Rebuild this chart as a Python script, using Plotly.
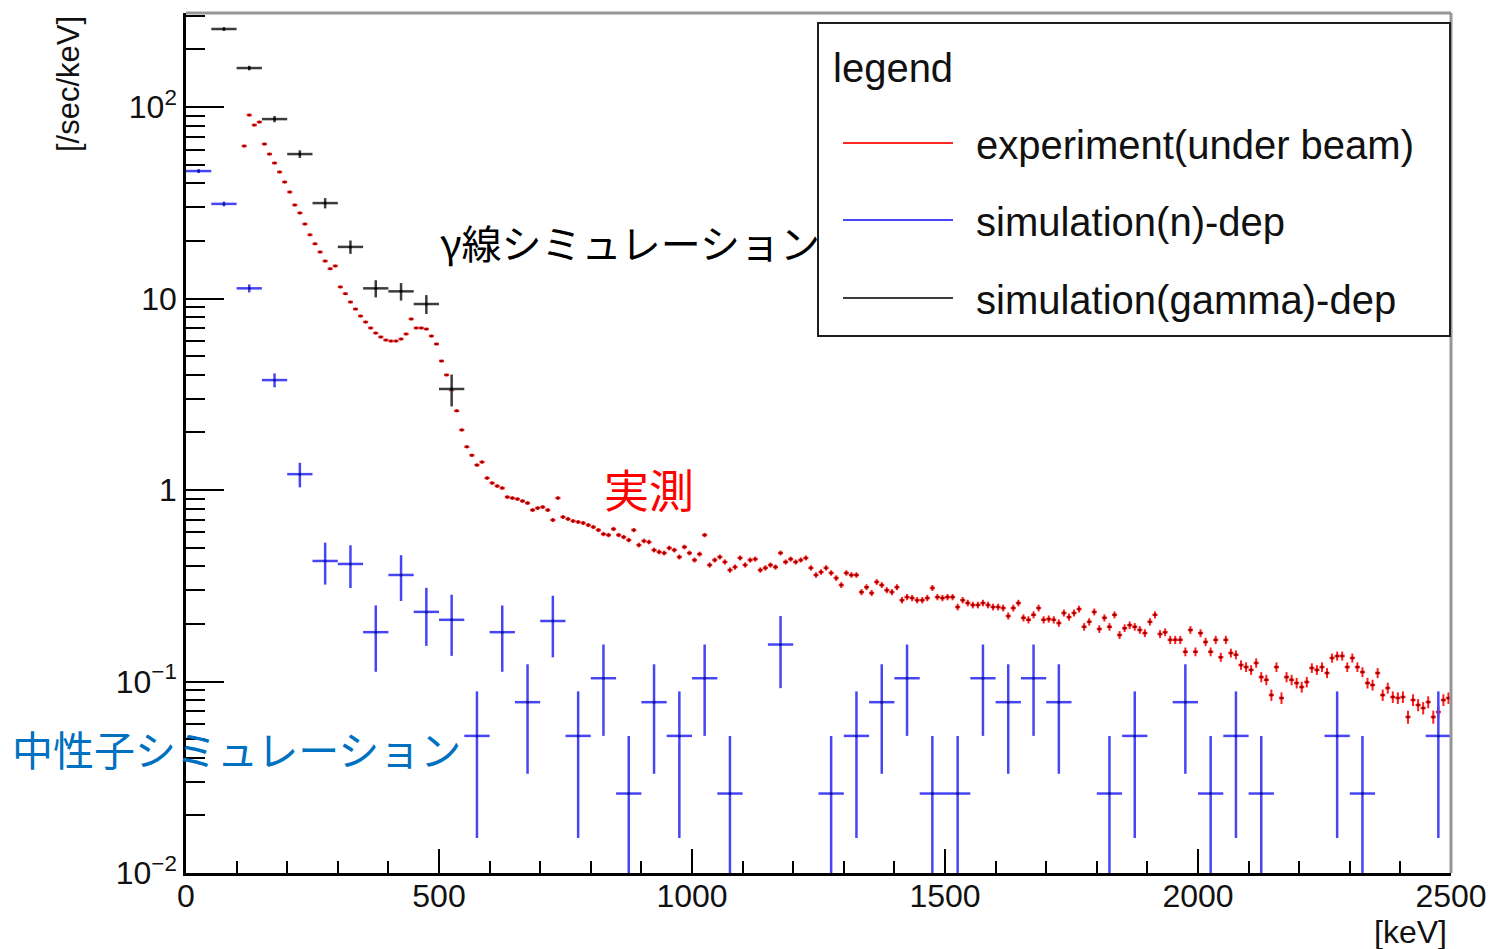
import numpy as np
import plotly.graph_objects as go

# ---------------- data ----------------
# experiment (under beam): 10 keV bins starting at 110 keV (centres 115 ... 2495)
exp_rate = [
    62.6, 90.8, 80.5, 83.5, 64.1, 56.8, 51.0, 45.8, 40.6, 36.0,
    30.8, 28.0, 24.5, 21.5, 19.3, 17.5, 15.7, 14.3, 14.8, 11.5,
    10.6, 9.59, 8.81, 8.10, 7.54, 7.02, 6.60, 6.30, 6.07, 6.00,
    6.00, 6.15, 6.53, 7.82, 7.02, 7.02, 6.93, 6.37, 5.79, 4.72,
    3.99, 3.33, 2.59, 2.06, 1.68, 1.52, 1.35, 1.40, 1.155, 1.088,
    1.049, 1.024, 0.919, 0.908, 0.897, 0.876, 0.855, 0.786, 0.805, 0.815,
    0.786, 0.697, 0.908, 0.723, 0.706, 0.689, 0.681, 0.673, 0.656, 0.641,
    0.618,
    0.589, 0.582, 0.626, 0.582, 0.568, 0.548, 0.618, 0.516, 0.542, 0.535,
    0.486, 0.475, 0.469, 0.498, 0.486, 0.447, 0.504, 0.469, 0.431, 0.463,
    0.582, 0.406, 0.431, 0.447, 0.421, 0.382, 0.396, 0.442, 0.406, 0.431,
    0.436, 0.382, 0.392, 0.406, 0.396, 0.469, 0.421, 0.436, 0.421, 0.431,
    0.442, 0.392, 0.360, 0.373, 0.392, 0.369, 0.347, 0.319, 0.369, 0.360,
    0.360, 0.293, 0.311, 0.290, 0.331, 0.319, 0.300, 0.293, 0.311, 0.266,
    0.276, 0.273, 0.266, 0.266, 0.273, 0.308, 0.276, 0.273, 0.276, 0.276,
    0.245, 0.266, 0.257, 0.251, 0.251, 0.257, 0.251, 0.245, 0.245, 0.242,
    0.220, 0.242, 0.257,
    0.215, 0.210, 0.223, 0.242, 0.210, 0.212, 0.210, 0.202, 0.228, 0.217,
    0.228, 0.239, 0.193, 0.205, 0.231, 0.188, 0.215, 0.193, 0.223, 0.175,
    0.190, 0.197, 0.193, 0.186, 0.179, 0.205, 0.223, 0.177, 0.181, 0.165,
    0.165, 0.165, 0.143, 0.186, 0.143, 0.179, 0.161, 0.143, 0.165, 0.134,
    0.165, 0.141, 0.138, 0.122, 0.119, 0.115, 0.125, 0.1055, 0.102, 0.085,
    0.119, 0.082, 0.1055, 0.102, 0.0982, 0.0936, 0.0994, 0.1176, 0.115, 0.119,
    0.1108, 0.1327, 0.1359, 0.1359, 0.119, 0.1327, 0.119, 0.1121, 0.0982, 0.0959,
    0.1108, 0.085, 0.0925, 0.083, 0.082, 0.083, 0.0653, 0.0801, 0.0754, 0.0727,
    0.0781, 0.0653, 0.0693, 0.0801, 0.082,
]
exp_bin_width = 10
exp_energy = 115 + exp_bin_width * np.arange(len(exp_rate))

# simulation (n)-dep: 50 keV bins
n_energy = [25, 75, 125, 175, 225, 275, 325, 375, 425, 475,
            525, 575, 625, 675, 725, 775, 825, 875, 925, 975,
            1025, 1075, 1175, 1275, 1325, 1375, 1425, 1475, 1525, 1575,
            1625, 1675, 1725, 1825, 1875, 1975, 2025, 2075, 2125, 2275,
            2325, 2475]
n_rate = [46.3, 31.2, 11.3, 3.75, 1.21, 0.426, 0.411, 0.181, 0.360, 0.231,
          0.210, 0.052, 0.181, 0.078, 0.207, 0.052, 0.104, 0.026, 0.078, 0.052,
          0.104, 0.026, 0.156, 0.026, 0.052, 0.078, 0.104, 0.026, 0.026, 0.104,
          0.078, 0.104, 0.078, 0.026, 0.052, 0.078, 0.026, 0.052, 0.026, 0.052,
          0.026, 0.052]
n_bin_width = 50
n_unit = 0.026   # rate corresponding to a single simulated count

# simulation (gamma)-dep: 50 keV bins
g_energy = [75, 125, 175, 225, 275, 325, 375, 425, 475, 525]
g_rate = [255.5, 159.8, 86.5, 56.8, 31.5, 18.6, 11.3, 10.9, 9.36, 3.37]
g_bin_width = 50
g_unit = 0.12

exp_unit = 0.0004

# ---------------- helpers ----------------
def poisson_err(vals, unit):
    v = np.asarray(vals, dtype=float)
    e = np.sqrt(v * unit)
    lo = np.minimum(e, v * 0.999999)
    return e, lo

W, H = 1490, 949
L, R, T, B = 186, 1451, 13, 873   # plot frame in pixels


def px(x):
    return (x - L) / (R - L)


def py(y):
    return (B - y) / (B - T)


fig = go.Figure()

e_hi, e_lo = poisson_err(exp_rate, exp_unit)
fig.add_trace(go.Scatter(
    x=exp_energy, y=exp_rate, mode="markers", name="experiment(under beam)",
    marker=dict(size=3, color="rgb(150,0,0)"),
    error_x=dict(type="constant", value=exp_bin_width / 2, width=0,
                 color="rgb(255,30,30)", thickness=2.5),
    error_y=dict(type="data", array=e_hi, arrayminus=e_lo, width=0,
                 color="rgb(255,30,30)", thickness=2),
    showlegend=False, cliponaxis=True))

e_hi, e_lo = poisson_err(n_rate, n_unit)
fig.add_trace(go.Scatter(
    x=n_energy, y=n_rate, mode="markers", name="simulation(n)-dep",
    marker=dict(size=3, color="rgb(20,20,160)"),
    error_x=dict(type="constant", value=n_bin_width / 2, width=0,
                 color="rgb(70,70,245)", thickness=2.5),
    error_y=dict(type="data", array=e_hi, arrayminus=e_lo, width=0,
                 color="rgb(70,70,245)", thickness=2.5),
    showlegend=False, cliponaxis=True))

e_hi, e_lo = poisson_err(g_rate, g_unit)
fig.add_trace(go.Scatter(
    x=g_energy, y=g_rate, mode="markers", name="simulation(gamma)-dep",
    marker=dict(size=3, color="black"),
    error_x=dict(type="constant", value=g_bin_width / 2, width=0,
                 color="rgb(60,60,60)", thickness=2.5),
    error_y=dict(type="data", array=e_hi, arrayminus=e_lo, width=0,
                 color="rgb(60,60,60)", thickness=2.5),
    showlegend=False, cliponaxis=True))

TICKFONT = dict(family="Liberation Sans, Arial, sans-serif", size=32, color="#111")

fig.update_xaxes(
    range=[0, 2500], tickmode="linear", tick0=0, dtick=500,
    ticks="inside", ticklen=24, tickwidth=2, tickcolor="black",
    minor=dict(dtick=100, tick0=0, ticks="inside", ticklen=12, tickwidth=2,
               tickcolor="black", showgrid=False),
    showline=True, linecolor="black", linewidth=2.5, automargin=False,
    ticklabelstandoff=-7,
    showgrid=False, zeroline=False, tickfont=TICKFONT)

fig.update_yaxes(
    type="log", range=[-2, 2.491],
    tickmode="array", tickvals=[0.01, 0.1, 1, 10, 100],
    ticktext=["10<sup>\u22122</sup>", "10<sup>\u22121</sup>", "1", "10", "10<sup>2</sup>"],
    ticks="inside", ticklen=38, tickwidth=2, tickcolor="black",
    minor=dict(dtick="D1", ticks="inside", ticklen=19, tickwidth=2,
               tickcolor="black", showgrid=False),
    showline=True, linecolor="black", linewidth=2.5, automargin=False,
    showgrid=False, zeroline=False, tickfont=TICKFONT)

shapes = [
    # top & right frame (grey)
    dict(type="line", xref="paper", yref="paper", x0=0, x1=1, y0=1, y1=1,
         line=dict(color="rgb(150,150,150)", width=3)),
    dict(type="line", xref="paper", yref="paper", x0=1, x1=1, y0=0, y1=1,
         line=dict(color="rgb(150,150,150)", width=3)),
    # legend box
    dict(type="rect", xref="paper", yref="paper", x0=px(818), x1=px(1450),
         y0=py(336), y1=py(23), fillcolor="white",
         line=dict(color="rgb(30,30,30)", width=2), layer="above"),
]
legend_items = [
    ("experiment(under beam)", "rgb(255,40,40)", 143),
    ("simulation(n)-dep", "rgb(70,70,255)", 220),
    ("simulation(gamma)-dep", "rgb(60,60,60)", 298),
]
LEGFONT = dict(family="Liberation Sans, Arial, sans-serif", size=40, color="#111")
annotations = [
    dict(text="legend", x=px(831), y=py(68), xref="paper", yref="paper",
         xanchor="left", yanchor="middle", showarrow=False, font=LEGFONT),
]
for label, col, yy in legend_items:
    shapes.append(dict(type="line", xref="paper", yref="paper",
                       x0=px(843), x1=px(953), y0=py(yy), y1=py(yy),
                       line=dict(color=col, width=2), layer="above"))
    annotations.append(dict(text=label, x=px(974), y=py(yy + 2), xref="paper",
                            yref="paper", xanchor="left", yanchor="middle",
                            showarrow=False, font=LEGFONT))

CJK = "Noto Sans CJK JP, Noto Sans, sans-serif"
annotations += [
    dict(text="[/sec/keV]", x=px(68), y=py(14), xref="paper", yref="paper",
         xanchor="center", yanchor="top", textangle=-90, showarrow=False,
         font=dict(family="Liberation Sans, Arial, sans-serif", size=31, color="#111")),
    dict(text="[keV]", x=px(1449), y=py(932), xref="paper", yref="paper",
         xanchor="right", yanchor="middle", showarrow=False,
         font=dict(family="Liberation Sans, Arial, sans-serif", size=32, color="#111")),
    dict(text="γ線シミュレーション", x=px(438), y=py(242), xref="paper", yref="paper",
         xanchor="left", yanchor="middle", showarrow=False,
         font=dict(family=CJK, size=40, color="black")),
    dict(text="実測", x=px(602), y=py(488), xref="paper", yref="paper",
         xanchor="left", yanchor="middle", showarrow=False,
         font=dict(family=CJK, size=45, color="rgb(255,0,0)")),
    dict(text="中性子シミュレーション", x=px(10), y=py(748), xref="paper", yref="paper",
         xanchor="left", yanchor="middle", showarrow=False,
         font=dict(family=CJK, size=41, color="rgb(0,112,192)")),
]

fig.update_layout(
    width=W, height=H,
    margin=dict(l=L, r=W - R, t=T, b=H - B, pad=0),
    paper_bgcolor="white", plot_bgcolor="white",
    shapes=shapes, annotations=annotations, showlegend=False,
)

fig.write_html("out.html")
